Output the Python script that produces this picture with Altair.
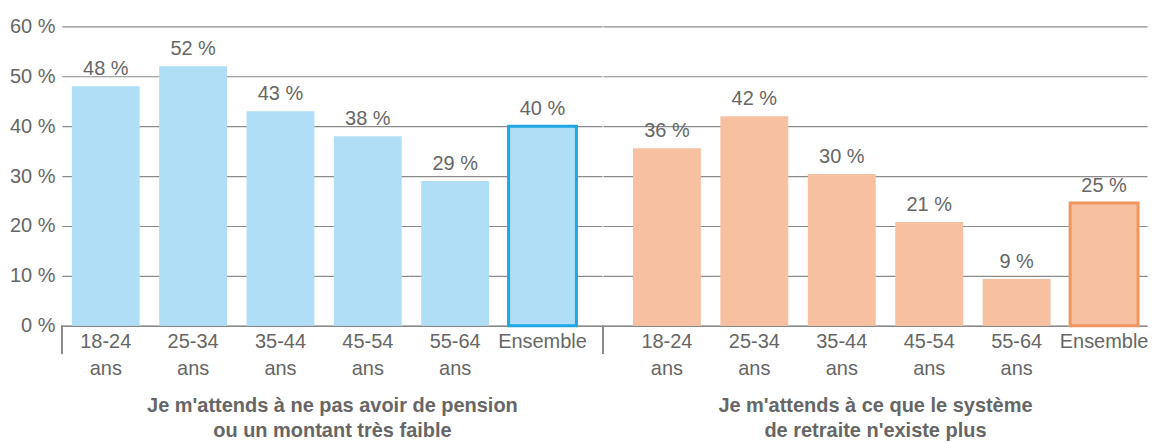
import altair as alt
import pandas as pd

ages = ["18-24 ans", "25-34 ans", "35-44 ans", "45-54 ans", "55-64 ans", "Ensemble"]
pension_values = [48, 52, 43, 38, 29, 40]
systeme_values = [35.6, 42, 30.4, 20.8, 9.4, 24.6]
title_left = ["Je m'attends à ne pas avoir de pension", "ou un montant très faible"]
title_right = ["Je m'attends à ce que le système", "de retraite n'existe plus"]
y_ticks = [0, 10, 20, 30, 40, 50, 60]

FONT = "Liberation Sans"
GREY = "#666666"
LINE = "#8a8a8a"


def panel(values, fill, stroke, title, width, pad_outer, align, show_y):
    df = pd.DataFrame({"age": ages, "value": values})
    x = alt.X(
        "age:N",
        sort=ages,
        scale=alt.Scale(paddingInner=0.223, paddingOuter=pad_outer, align=align),
        axis=alt.Axis(
            title=title,
            labelExpr="split(datum.label, ' ')",
            labelAngle=0,
            labelFont=FONT,
            labelFontSize=20,
            labelColor=GREY,
            labelLineHeight=27,
            labelPadding=6,
            labelBaseline="top",
            ticks=False,
            domainColor=LINE,
            domainWidth=1.5,
            titleFont=FONT,
            titleFontSize=20,
            titleFontWeight="bold",
            titleColor=GREY,
            titlePadding=17,
            titleLineHeight=25,
        ),
    )
    if show_y:
        yaxis = alt.Axis(
            values=y_ticks,
            labelExpr="datum.value + ' %'",
            labelFont=FONT,
            labelFontSize=20,
            labelColor=GREY,
            labelPadding=7,
            ticks=False,
            domain=False,
            title=None,
            gridColor=LINE,
            gridWidth=1.2,
        )
    else:
        yaxis = alt.Axis(
            values=y_ticks,
            labels=False,
            ticks=False,
            domain=False,
            title=None,
            gridColor=LINE,
            gridWidth=1.2,
        )
    y = alt.Y("value:Q", scale=alt.Scale(domain=[0, 60], nice=False), axis=yaxis)
    base = alt.Chart(df)
    bars = base.mark_bar(fill=fill, stroke=stroke).encode(
        x=x,
        y=y,
        strokeWidth=alt.condition(alt.datum.age == "Ensemble", alt.value(3), alt.value(0)),
    )
    labels = base.transform_calculate(
        lab="format(datum.value, '.0f') + ' %'"
    ).mark_text(baseline="bottom", dy=-7, font=FONT, fontSize=20, color=GREY).encode(
        x=alt.X("age:N", sort=ages),
        y=alt.Y("value:Q"),
        text="lab:N",
    )
    sep = base.mark_rule(color=LINE, strokeWidth=1.5).encode(
        x=alt.value(0), y=alt.value(300), y2=alt.value(328)
    )
    return alt.layer(bars, labels, sep).properties(width=width, height=300)


left = panel(pension_values, "#b1def7", "#1ea7e4", title_left, 541, 0.203, 0.28, True)
right = panel(systeme_values, "#f7c0a0", "#f1955f", title_right, 545, 0.2226, 0.77, False)

chart = (
    alt.hconcat(left, right, spacing=0)
    .properties(padding={"left": 1, "top": 8, "right": 0, "bottom": 0})
    .configure_view(stroke=None)
)

chart.save("out.html", embed_options={"renderer": "svg", "actions": False})
